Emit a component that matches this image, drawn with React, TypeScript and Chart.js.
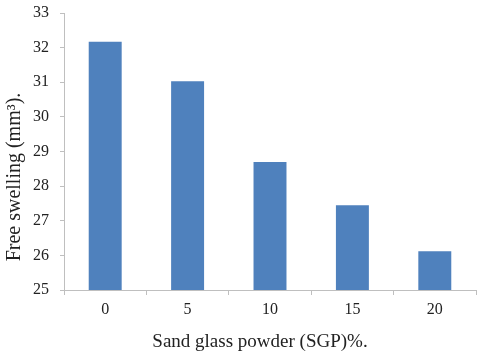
import React, { useEffect, useRef } from "react";
import { Chart, registerables } from "chart.js";

Chart.register(...registerables);

const categories = ["0", "5", "10", "15", "20"];
const swelling = [32.17, 31.03, 28.7, 27.45, 26.12];
const yMin = 25;
const yMax = 33;
const yStep = 1;
const xTitle = "Sand glass powder (SGP)%.";
const yTitle = "Free swelling (mm³).";

const FONT = "'Liberation Serif', 'Times New Roman', serif";
const AXIS = "#bfbfbf";
const TEXT = "#222222";

const titlePlugin = {
  id: "manualTitles",
  afterDraw(chart: any) {
    const ctx = chart.ctx;
    ctx.save();
    ctx.fillStyle = TEXT;
    ctx.textAlign = "center";
    ctx.textBaseline = "middle";
    ctx.font = `19px ${FONT}`;
    ctx.fillText(xTitle, 260, 342);
    ctx.font = `20px ${FONT}`;
    ctx.translate(15, 177);
    ctx.rotate(-Math.PI / 2);
    ctx.fillText(yTitle, 0, 0);
    ctx.restore();
  },
};

export default function App() {
  const ref = useRef<HTMLCanvasElement | null>(null);
  useEffect(() => {
    if (!ref.current) return;
    const chart = new Chart(ref.current, {
      type: "bar",
      data: {
        labels: categories,
        datasets: [
          {
            data: swelling,
            backgroundColor: "#4F81BD",
            borderWidth: 0,
            barPercentage: 0.4,
            categoryPercentage: 1,
          },
        ],
      },
      options: {
        responsive: false,
        animation: false,
        layout: { padding: { top: 13, right: 4, left: 0, bottom: 0 } },
        plugins: { legend: { display: false }, tooltip: { enabled: false } },
        scales: {
          x: {
            offset: true,
            grid: {
              offset: true,
              drawOnChartArea: false,
              drawTicks: true,
              tickLength: 5,
              color: AXIS,
            },
            border: { color: AXIS },
            ticks: {
              font: { family: FONT, size: 16 },
              color: TEXT,
              padding: 5,
            },
            afterFit(scale: any) {
              scale.height = 65;
              scale.paddingLeft = 0;
              scale.paddingRight = 0;
            },
          },
          y: {
            min: yMin,
            max: yMax,
            ticks: {
              stepSize: yStep,
              font: { family: FONT, size: 16 },
              color: TEXT,
              padding: 11,
            },
            grid: {
              drawOnChartArea: false,
              drawTicks: true,
              tickLength: 4,
              color: AXIS,
            },
            border: { color: AXIS },
            afterFit(scale: any) {
              scale.width = 64;
              scale.paddingTop = 0;
              scale.paddingBottom = 0;
            },
          },
        },
      },
      plugins: [titlePlugin],
    });
    return () => chart.destroy();
  }, []);
  return (
    <div style={{ position: "fixed", left: 0, top: 0, width: 480, height: 355, background: "#fff" }}>
      <canvas ref={ref} width={480} height={355} style={{ display: "block" }} />
    </div>
  );
}
